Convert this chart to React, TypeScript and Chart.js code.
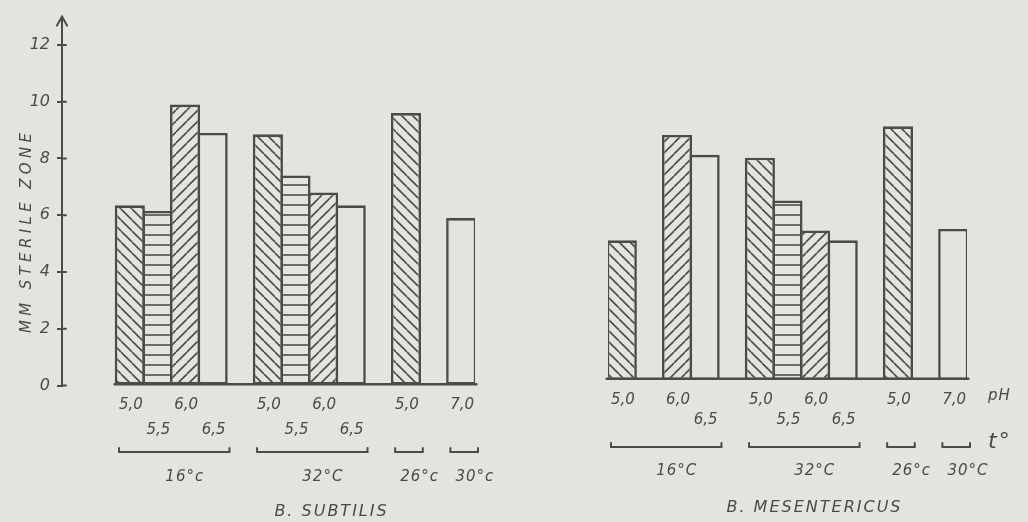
import React, { useEffect, useRef } from "react";
import { Chart, registerables } from "chart.js";

Chart.register(...registerables);

// ---------- data ----------
const slotPH = ["5,0", "5,5", "6,0", "6,5", "", "5,0", "5,5", "6,0", "6,5", "", "5,0", "", "7,0"];
const subtilisValues = [6.35, 6.15, 9.9, 8.9, null, 8.85, 7.4, 6.8, 6.35, null, 9.6, null, 5.9];
const mesentericusValues = [4.9, null, 8.6, 7.9, null, 7.8, 6.3, 5.25, 4.9, null, 8.9, null, 5.3];
const tempGroups = [[0, 3], [5, 8], [10, 10], [12, 12]];
const subtilisTemps = ["16°c", "32°C", "26°c", "30°c"];
const mesentericusTemps = ["16°C", "32°C", "26°c", "30°C"];
const yTickValues = [0, 2, 4, 6, 8, 10, 12];
const yTitle = "MM STERILE ZONE";

// ---------- style ----------
const BG = "#e3e3e0";
const LINE = "#4b4b4b";
const TEXT = "#4a4a4a";
const FONT = "'DejaVu Sans', sans-serif";

function hatchFor(ph: string): string {
  if (ph === "5,0") return "back";
  if (ph === "5,5") return "horiz";
  if (ph === "6,0") return "fwd";
  return "none";
}

function makePattern(kind: string): CanvasPattern | string {
  if (kind === "none") return BG;
  const w = 11;
  const h = kind === "horiz" ? 10 : 11;
  const c = document.createElement("canvas");
  c.width = w;
  c.height = h;
  const g = c.getContext("2d")!;
  g.fillStyle = BG;
  g.fillRect(0, 0, w, h);
  g.strokeStyle = LINE;
  g.lineWidth = 1.6;
  g.beginPath();
  if (kind === "back") {
    for (const o of [-w, 0, w]) {
      g.moveTo(o, 0);
      g.lineTo(o + w, h);
    }
  } else if (kind === "fwd") {
    for (const o of [-w, 0, w]) {
      g.moveTo(o, h);
      g.lineTo(o + w, 0);
    }
  } else {
    g.moveTo(0, h / 2);
    g.lineTo(w, h / 2);
  }
  g.stroke();
  return g.createPattern(c, "repeat")!;
}

interface PanelCfg {
  values: (number | null)[];
  temps: string[];
  title: string;
  width: number;
  left: number;
  xMin: number;
  padding: { left: number; right: number; top: number; bottom: number };
  showAxis: boolean;
  rows: { r1: number; r2: number; bracket: number; temp: number; title: number };
  titleShift: number;
  showUnits: boolean;
}

function spacedText(ctx: CanvasRenderingContext2D, text: string, x: number, y: number, spacing: number) {
  (ctx as any).letterSpacing = spacing + "px";
  const w = ctx.measureText(text).width - spacing;
  const align = ctx.textAlign;
  let sx = x;
  if (align === "center") sx = x - w / 2;
  else if (align === "right") sx = x - w;
  ctx.textAlign = "left";
  ctx.fillText(text, sx, y);
  ctx.textAlign = align;
  (ctx as any).letterSpacing = "0px";
}

function decorPlugin(p: PanelCfg) {
  return {
    id: "decor",
    afterDatasetsDraw(chart: any) {
      const ctx: CanvasRenderingContext2D = chart.ctx;
      const xs = chart.scales.x;
      const ys = chart.scales.y;
      const y0 = ys.getPixelForValue(0);
      const n = slotPH.length;
      ctx.save();
      ctx.strokeStyle = LINE;
      ctx.fillStyle = TEXT;
      ctx.lineCap = "round";

      // baseline joining the bars
      ctx.lineWidth = 2.6;
      ctx.beginPath();
      ctx.moveTo(xs.getPixelForValue(-0.5) - 1.3, y0 - 1.3);
      ctx.lineTo(xs.getPixelForValue(n - 0.5) + 1.3, y0 - 1.3);
      ctx.stroke();

      // pH labels
      ctx.textBaseline = "middle";
      ctx.textAlign = "center";
      ctx.font = `italic 15px ${FONT}`;
      tempGroups.forEach(([a, b]) => {
        for (let i = a; i <= b; i++) {
          if (p.values[i] == null || !slotPH[i]) continue;
          const row = (i - a) % 2 === 0 ? p.rows.r1 : p.rows.r2;
          spacedText(ctx, slotPH[i], xs.getPixelForValue(i) + 1, y0 + row, 0);
        }
      });

      // temperature brackets and labels
      ctx.lineWidth = 2;
      tempGroups.forEach(([a, b], gi) => {
        const xa = xs.getPixelForValue(a - 0.5) + 3;
        const xb = xs.getPixelForValue(b + 0.5) + 3;
        const yb = y0 + p.rows.bracket;
        ctx.beginPath();
        ctx.moveTo(xa, yb - 4);
        ctx.lineTo(xa, yb);
        ctx.lineTo(xb, yb);
        ctx.lineTo(xb, yb - 4);
        ctx.stroke();
        ctx.font = `italic 15px ${FONT}`;
        if (b > a) {
          ctx.textAlign = "center";
          spacedText(ctx, p.temps[gi], (xa + xb) / 2 + 10, y0 + p.rows.temp, 1);
        } else {
          ctx.textAlign = "left";
          spacedText(ctx, p.temps[gi], xa + 5, y0 + p.rows.temp, 1);
        }
      });

      // title
      ctx.textAlign = "center";
      ctx.font = `italic 16px ${FONT}`;
      const cx = (xs.getPixelForValue(-0.5) + xs.getPixelForValue(n - 0.5)) / 2 + p.titleShift;
      spacedText(ctx, p.title, cx, y0 + p.rows.title, 2);

      if (p.showUnits) {
        const xr = xs.getPixelForValue(n - 0.5);
        ctx.textAlign = "left";
        ctx.font = `italic 15px ${FONT}`;
        spacedText(ctx, "pH", xr + 21, y0 + p.rows.r1 - 4, 1);
        ctx.font = `italic 22px ${FONT}`;
        spacedText(ctx, "t°", xr + 21, y0 + p.rows.bracket - 5, 2);
      }

      if (p.showAxis) {
        const ax = chart.chartArea.left;
        const top = chart.chartArea.top;
        ctx.lineWidth = 2;
        // arrow head
        ctx.beginPath();
        ctx.moveTo(ax - 5, top + 9);
        ctx.lineTo(ax, top);
        ctx.lineTo(ax + 5, top + 9);
        ctx.stroke();
        // tick stubs crossing the axis
        yTickValues.forEach((v) => {
          const py = ys.getPixelForValue(v);
          ctx.beginPath();
          ctx.moveTo(ax, py);
          ctx.lineTo(ax + 4, py);
          ctx.stroke();
        });
        // axis title
        ctx.save();
        ctx.translate(27, 233);
        ctx.rotate(-Math.PI / 2);
        ctx.textAlign = "center";
        ctx.font = `italic 15px ${FONT}`;
        const w0 = ctx.measureText(yTitle).width;
        spacedText(ctx, yTitle, 0, 0, Math.max(0, (200 - w0) / (yTitle.length - 1)));
        ctx.restore();
      }
      ctx.restore();
    },
  };
}

function Panel({ p }: { p: PanelCfg }) {
  const ref = useRef<HTMLCanvasElement>(null);
  useEffect(() => {
    const pts: { x: number; y: number }[] = [];
    const bgs: (CanvasPattern | string)[] = [];
    p.values.forEach((v, i) => {
      if (v == null) return;
      pts.push({ x: i, y: v });
      bgs.push(makePattern(hatchFor(slotPH[i])));
    });
    const chart = new Chart(ref.current!, {
      type: "bar",
      data: {
        datasets: [
          {
            data: pts as any,
            backgroundColor: bgs as any,
            borderColor: LINE,
            borderWidth: 2.6,
            borderSkipped: false,
            barPercentage: 1.09,
            categoryPercentage: 1,
          } as any,
        ],
      },
      options: {
        responsive: false,
        animation: false,
        events: [],
        layout: { padding: p.padding },
        plugins: { legend: { display: false }, tooltip: { enabled: false } },
        scales: {
          x: {
            type: "linear",
            display: false,
            offset: false,
            grid: { offset: false },
            min: p.xMin,
            max: slotPH.length - 0.5,
            ticks: { stepSize: 1, includeBounds: false },
          },
          y: {
            min: 0,
            max: 13,
            display: p.showAxis,
            border: { display: true, color: LINE, width: 2 },
            grid: { display: true, drawOnChartArea: false, drawTicks: true, tickLength: 5, color: LINE, lineWidth: 2 },
            ticks: {
              stepSize: 2,
              includeBounds: false,
              color: TEXT,
              padding: 7,
              font: { family: FONT, size: 16, style: "italic" },
            },
            afterFit: (s: any) => {
              if (p.showAxis) s.width = 62;
            },
          },
        },
      },
      plugins: [decorPlugin(p)],
    });
    return () => chart.destroy();
  }, []);
  return (
    <div style={{ position: "absolute", left: p.left, top: 0, width: p.width, height: 522 }}>
      <canvas ref={ref} width={p.width} height={522} style={{ width: p.width, height: 522, display: "block" }} />
    </div>
  );
}

const leftPanel: PanelCfg = {
  values: subtilisValues,
  temps: subtilisTemps,
  title: "B. SUBTILIS",
  width: 520,
  left: 0,
  xMin: -0.5 - 54 / 27.6,
  padding: { left: 0, right: 45, top: 15, bottom: 136.5 },
  showAxis: true,
  rows: { r1: 20, r2: 44.5, bracket: 66.5, temp: 91.5, title: 126.5 },
  titleShift: 35,
  showUnits: false,
};

const rightPanel: PanelCfg = {
  values: mesentericusValues,
  temps: mesentericusTemps,
  title: "B. MESENTERICUS",
  width: 508,
  left: 520,
  xMin: -0.5,
  padding: { left: 88, right: 61, top: 9.5, bottom: 142 },
  showAxis: false,
  rows: { r1: 20, r2: 40, bracket: 67, temp: 91, title: 128 },
  titleShift: 26,
  showUnits: true,
};

export default function App() {
  return (
    <div style={{ position: "fixed", left: 0, top: 0, width: 1028, height: 522, background: BG, overflow: "hidden" }}>
      <Panel p={leftPanel} />
      <Panel p={rightPanel} />
    </div>
  );
}
